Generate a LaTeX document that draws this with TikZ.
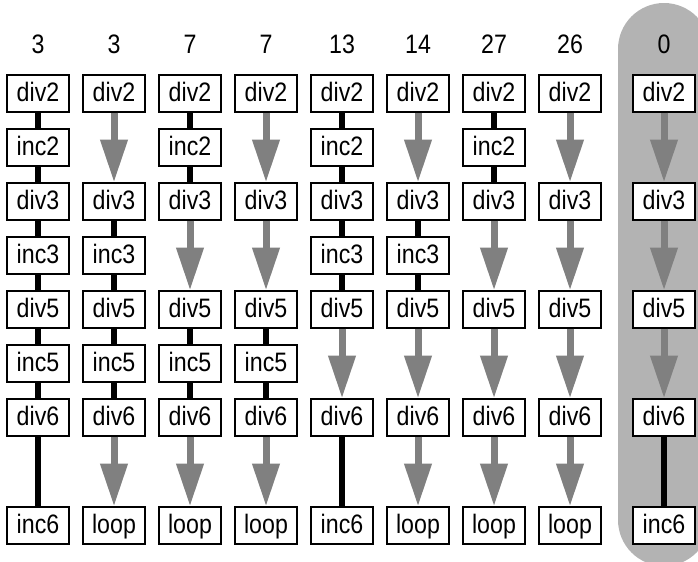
\documentclass[tikz,border=0pt]{standalone}
\usepackage{fontspec}
\setmainfont[FakeStretch=0.87]{Liberation Sans}
\usetikzlibrary{arrows.meta}
\definecolor{bandgray}{RGB}{179,179,179}
\definecolor{arrowgray}{RGB}{128,128,128}

\begin{document}
\begin{tikzpicture}[x=0.75pt,y=-0.75pt,
  every node/.style={font=\fontsize{20}{24}\selectfont},
  op/.style={draw,fill=white,line width=1pt,inner sep=0pt,
    minimum width=46.5pt,minimum height=27.75pt,text height=15pt,text depth=2.5pt},
  num/.style={inner sep=0pt},
  link/.style={line width=4.5pt,black},
  jump/.style={line width=5.25pt,arrowgray,-{Triangle[width=19.5pt,length=32pt]}}]
\useasboundingbox (0,0) rectangle (698,561);
% shaded last column
\begin{scope}
\clip (0,0) rectangle (698,561);
\fill[bandgray,rounded corners=34.5pt] (618,3) rectangle (710,566);
\end{scope}
% rows and columns
\foreach \r/\y in {num/44,div2/93.5,inc2/147.5,div3/201.5,inc3/255.5,div5/309.5,inc5/363.5,div6/417.5,end/525.5}
  \coordinate (row-\r) at (0,\y);
\foreach \c/\x in {a/38,b/114,c/190,d/266,e/342,f/418,g/494,h/570,i/664}
  \coordinate (col-\c) at (\x,0);
% numbers and div boxes
\foreach \c/\n in {a/3,b/3,c/7,d/7,e/13,f/14,g/27,h/26,i/0} {
  \node[num] (\c-n) at (col-\c |- row-num) {\n};
  \foreach \r in {div2,div3,div5,div6}
    \node[op] (\c-\r) at (col-\c |- row-\r) {\r};
}
% inc boxes
\foreach \c/\r in {a/inc2,a/inc3,a/inc5,b/inc3,b/inc5,c/inc2,c/inc5,d/inc5,
                   e/inc2,e/inc3,f/inc3,g/inc2}
  \node[op] (\c-\r) at (col-\c |- row-\r) {\r};
% last row
\foreach \c/\r in {a/inc6,b/loop,c/loop,d/loop,e/inc6,f/loop,g/loop,h/loop,i/inc6}
  \node[op] (\c-end) at (col-\c |- row-end) {\r};
% black links
\foreach \c/\p/\q in {a/div2/inc2,a/inc2/div3,a/div3/inc3,a/inc3/div5,a/div5/inc5,a/inc5/div6,a/div6/end,
                      b/div3/inc3,b/inc3/div5,b/div5/inc5,b/inc5/div6,
                      c/div2/inc2,c/inc2/div3,c/div5/inc5,c/inc5/div6,
                      d/div5/inc5,d/inc5/div6,
                      e/div2/inc2,e/inc2/div3,e/div3/inc3,e/inc3/div5,e/div6/end,
                      f/div3/inc3,f/inc3/div5,
                      g/div2/inc2,g/inc2/div3,
                      i/div6/end}
  \draw[link] (\c-\p) -- (\c-\q);
% gray jumps
\foreach \c/\p/\q in {b/div2/div3,b/div6/end,
                      c/div3/div5,c/div6/end,
                      d/div2/div3,d/div3/div5,d/div6/end,
                      e/div5/div6,
                      f/div2/div3,f/div5/div6,f/div6/end,
                      g/div3/div5,g/div5/div6,g/div6/end,
                      h/div2/div3,h/div3/div5,h/div5/div6,h/div6/end,
                      i/div2/div3,i/div3/div5,i/div5/div6}
  \draw[jump] (\c-\p) -- (\c-\q);
\end{tikzpicture}
\end{document}
